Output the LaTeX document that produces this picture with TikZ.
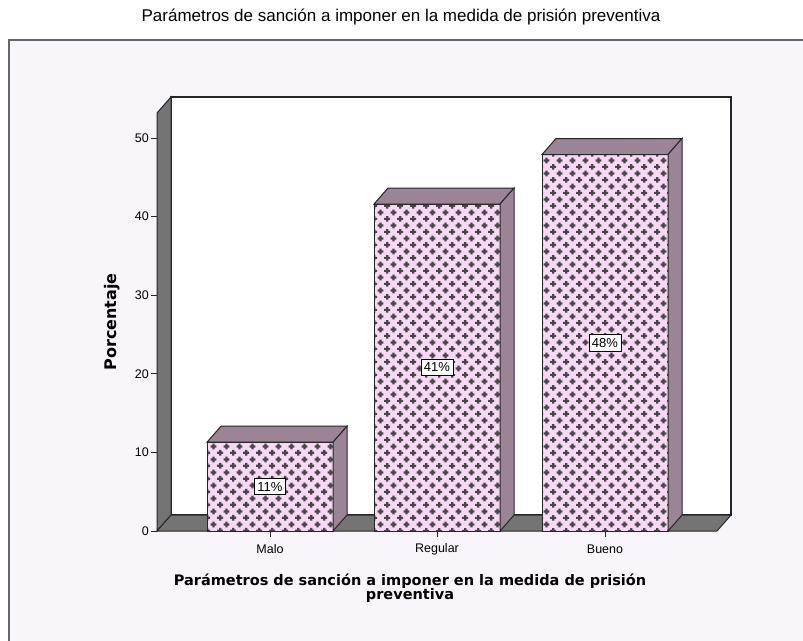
\documentclass[tikz,border=0pt]{standalone}
\usepackage{fontspec}
\setmainfont{Liberation Sans}
\newfontfamily\titlefont{DejaVu Sans}
\usetikzlibrary{patterns}
\usetikzlibrary{positioning}

\definecolor{panelbg}{HTML}{F9F6FB}
\definecolor{wallgray}{HTML}{747474}
\definecolor{barpink}{HTML}{F7D9F5}
\definecolor{barmauve}{HTML}{9A8496}
\definecolor{plusgray}{HTML}{4A444A}

% plus-sign fill of the bars
\pgfdeclarepatternformonly{plusgrid}{\pgfqpoint{0pt}{0pt}}{\pgfqpoint{12.8pt}{13.3pt}}{\pgfqpoint{12.8pt}{13.3pt}}{
  \pgfsetlinewidth{2.3pt}
  \pgfpathmoveto{\pgfqpoint{0.2pt}{3.3pt}}\pgfpathlineto{\pgfqpoint{6.2pt}{3.3pt}}
  \pgfpathmoveto{\pgfqpoint{3.2pt}{0.3pt}}\pgfpathlineto{\pgfqpoint{3.2pt}{6.3pt}}
  \pgfpathmoveto{\pgfqpoint{6.6pt}{9.95pt}}\pgfpathlineto{\pgfqpoint{12.6pt}{9.95pt}}
  \pgfpathmoveto{\pgfqpoint{9.6pt}{6.95pt}}\pgfpathlineto{\pgfqpoint{9.6pt}{12.95pt}}
  \pgfusepath{stroke}
}

\begin{document}
\begin{tikzpicture}[x=1pt,y=-1pt,
    edge/.style={draw=black!85, line width=1pt},
    wall/.style={edge, fill=wallgray},
    pctbox/.style={draw=black, fill=white, line width=0.7pt, inner xsep=3pt, inner ysep=3.5pt, font=\fontsize{13}{15}\selectfont},
    ticklab/.style={anchor=east, inner sep=1pt, font=\fontsize{12.5}{14}\selectfont},
    catlab/.style={inner sep=1pt, font=\fontsize{12.5}{14}\selectfont},
    axtitle/.style={font=\titlefont\bfseries\fontsize{14.5}{16.5}\selectfont, align=center}]
    \useasboundingbox (0,0) rectangle (803,640);
    \draw[line width=1.5pt, draw=black!60, fill=panelbg] (9,40) rectangle (812,650);

    \node (title) at (401,17) {\fontsize{17}{19}\selectfont Parámetros de sanción a imponer en la medida de prisión preventiva};

    % back wall, side wall and floor
    \draw[edge, fill=white, line width=1.5pt] (171,97) rectangle (731,515);
    \draw[wall] (157,113) -- (171,97) -- (171,515) -- (157,531) -- cycle;
    \draw[wall] (157,531) -- (171,515) -- (731,515) -- (717,531) -- cycle;

    % y axis
    \foreach \v in {0,10,...,50} {
        \draw[black!85, line width=0.8pt] (151,531-7.86*\v) -- (157,531-7.86*\v);
        \node[ticklab] (tick\v) at (150,531-7.86*\v) {\v};
    }
    \node[axtitle, rotate=90, font=\titlefont\bfseries\fontsize{16}{18}\selectfont] (ytitle) at (112,322) {Porcentaje};

    % bars
    \foreach \name/\cx/\pct/\val in {Malo/270/11/11.3, Regular/437/41/41.6, Bueno/605/48/47.9} {
        \pgfmathsetmacro{\top}{531-7.86*\val}
        \fill[barpink] (\cx-63,531) rectangle (\cx+63,\top);
        \fill[pattern=plusgrid, pattern color=plusgray] (\cx-63,531) rectangle (\cx+63,\top);
        \draw[edge] (\cx-63,531) rectangle (\cx+63,\top);
        \draw[edge, fill=barmauve] (\cx-63,\top) -- (\cx-49,\top-16) -- (\cx+77,\top-16) -- (\cx+63,\top) -- cycle;
        \draw[edge, fill=barmauve] (\cx+63,\top) -- (\cx+77,\top-16) -- (\cx+77,515) -- (\cx+63,531) -- cycle;
        \node[pctbox] (lab\name) at (\cx,{(531+\top)/2}) {\pct\%};
        \draw[black!85, line width=0.8pt] (\cx,531) -- (\cx,537);
        \node[catlab] (cat\name) at (\cx,549) {\name};
    }

    \node[axtitle] (xtitle) at (410,588) {Parámetros de sanción a imponer en la medida de prisión\\[-2pt]preventiva};
\end{tikzpicture}
\end{document}
